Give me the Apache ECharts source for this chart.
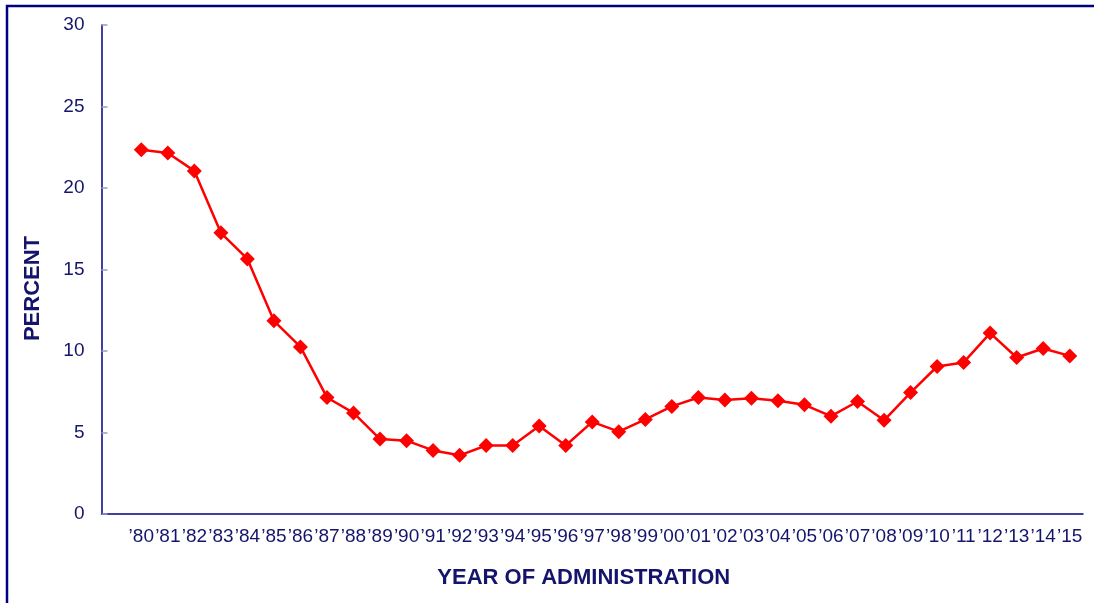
<!DOCTYPE html>
<html>
<head>
<meta charset="utf-8">
<script src="https://cdn.jsdelivr.net/npm/echarts@6/dist/echarts.min.js"></script>
<style>
  html, body { margin: 0; padding: 0; background: #fff; }
  #main { width: 1094px; height: 603px; }
</style>
</head>
<body>
<div id="main"></div>
<script>
// years of administration (leading blank slot as in the original chart)
var years = ['', '\u201980', '\u201981', '\u201982', '\u201983', '\u201984', '\u201985', '\u201986', '\u201987', '\u201988', '\u201989',
  '\u201990', '\u201991', '\u201992', '\u201993', '\u201994', '\u201995', '\u201996', '\u201997', '\u201998', '\u201999',
  '\u201900', '\u201901', '\u201902', '\u201903', '\u201904', '\u201905', '\u201906', '\u201907', '\u201908', '\u201909',
  '\u201910', '\u201911', '\u201912', '\u201913', '\u201914', '\u201915']
var percent = [null, 22.35, 22.15, 21.05, 17.25, 15.65, 11.85, 10.25, 7.15, 6.2, 4.6,
  4.5, 3.9, 3.6, 4.2, 4.2, 5.4, 4.2, 5.65, 5.05, 5.8,
  6.6, 7.15, 7.0, 7.1, 6.95, 6.7, 6.0, 6.9, 5.75, 7.45,
  9.05, 9.3, 11.1, 9.6, 10.15, 9.7]
var yTicks = [0, 30, 5]

var navy = '#000080'
var textNavy = '#14146b'
var chart = echarts.init(document.getElementById('main'))
var option = {
  animation: false,
  grid: { left: 101.5, right: 11, top: 25, bottom: 89 },
  graphic: [
    {
      type: 'polyline',
      shape: { points: [[7, 603], [7, 6], [1094, 6]] },
      style: { stroke: navy, lineWidth: 2.5, fill: null }
    }
  ],
  xAxis: {
    type: 'category',
    data: years,
    boundaryGap: true,
    name: 'YEAR OF ADMINISTRATION',
    nameLocation: 'middle',
    nameGap: 53,
    nameTextStyle: {
      color: textNavy, fontFamily: 'Liberation Sans, Arial', fontWeight: 'bold', fontSize: 22,
      padding: [0, 17, 0, 0]
    },
    axisLine: { lineStyle: { color: navy, width: 1.5 } },
    axisTick: { inside: true, length: 6, interval: 0, lineStyle: { color: '#9a9acc', width: 1.5 } },
    axisLabel: {
      interval: 0, margin: 13, color: textNavy, fontFamily: 'Liberation Sans, Arial', fontSize: 19
    },
    splitLine: { show: false }
  },
  yAxis: {
    type: 'value',
    min: yTicks[0],
    max: yTicks[1],
    interval: yTicks[2],
    name: 'PERCENT',
    nameLocation: 'middle',
    nameGap: 58,
    nameRotate: 90,
    nameTextStyle: {
      color: textNavy, fontFamily: 'Liberation Sans, Arial', fontWeight: 'bold', fontSize: 22,
      padding: [0, 38, 0, 0]
    },
    axisLine: { show: true, lineStyle: { color: navy, width: 1.5 } },
    axisTick: { show: true, inside: true, length: 6, lineStyle: { color: '#9a9acc', width: 1.5 } },
    axisLabel: { margin: 17, color: textNavy, fontFamily: 'Liberation Sans, Arial', fontSize: 19 },
    splitLine: { show: false }
  },
  series: [
    {
      type: 'line',
      data: percent,
      symbol: 'diamond',
      symbolSize: 15,
      lineStyle: { color: '#ff0000', width: 2.5 },
      itemStyle: { color: '#ff0000' }
    }
  ]
}
chart.setOption(option)
</script>
</body>
</html>
